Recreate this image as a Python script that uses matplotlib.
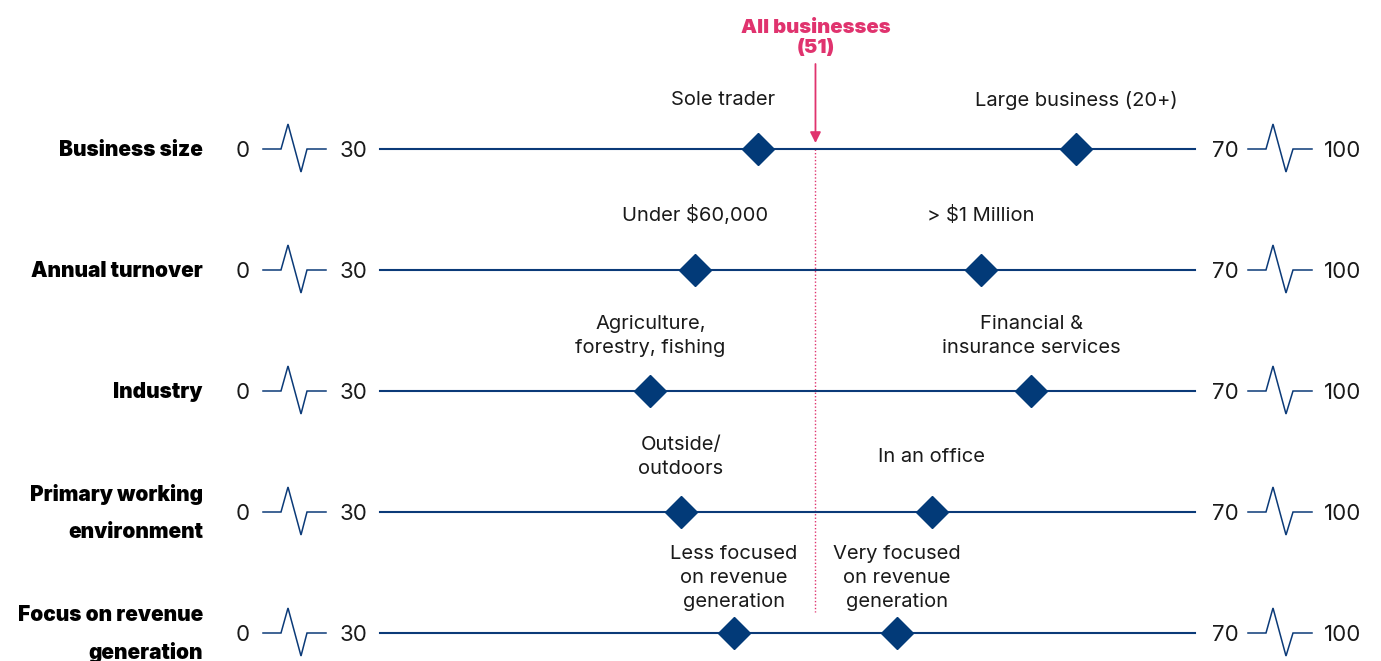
import matplotlib.pyplot as plt

plt.rcParams['font.family'] = ['Inter', 'DejaVu Sans']

# data
rows = ["Business size", "Annual turnover", "Industry",
        "Primary working\nenvironment", "Focus on revenue\ngeneration"]
low_labels = ["Sole trader", "Under $60,000", "Agriculture,\nforestry, fishing",
              "Outside/\noutdoors", "Less focused\non revenue\ngeneration"]
low_values = [48.2, 45.1, 42.9, 44.4, 47.0]
high_labels = ["Large business (20+)", "> $1 Million", "Financial &\ninsurance services",
               "In an office", "Very focused\non revenue\ngeneration"]
high_values = [63.8, 59.1, 61.6, 56.7, 55.0]
overall = 51
overall_label = "All businesses\n(51)"
scale_ticks = ["0", "30", "70", "100"]

W, H = 1381, 661
NAVY = "#0b3a78"
DIAMOND = "#023a78"
PINK = "#e0336e"
TEXT = "#1a1a1a"

# layout in pixels: value 30 sits at x=387.6, 20.375 px per point,
# first row at y=149, rows 121 px apart
X30, PPU = 387.6, 20.375
Y0, DY = 149, 121

fig = plt.figure(figsize=(W / 100, H / 100), dpi=100)
ax = fig.add_axes([0, 0, 1, 1])
ax.set_xlim(30 - X30 / PPU, 30 + (W - X30) / PPU)
ax.set_ylim((H - Y0) / DY, -Y0 / DY)
ax.axis("off")


def px(x):
    # pixel x -> data x
    return 30 + (x - X30) / PPU


def py(d):
    # pixel offset in y -> data offset
    return d / DY


zig_left = [263, 281, 288, 301, 307, 326]
zig_right = [1248, 1266, 1273, 1286, 1293, 1312]
zig_dy = [0, 0, -25, 23, 0, 0]
tick_x = [243, 353, 1225, 1343]

for i, name in enumerate(rows):
    ax.text(px(203), i + py(1), name, ha='right', va='center', fontsize=15,
            fontweight='black', color='black', linespacing=2.05)
    for t, tx in zip(scale_ticks, tick_x):
        ax.text(px(tx), i + py(2), t, ha='center', va='center', fontsize=16, color=TEXT)
    for zx in (zig_left, zig_right):
        ax.plot([px(x) for x in zx], [i + py(d) for d in zig_dy], color=NAVY, lw=1.1,
                solid_joinstyle='miter')
    ax.plot([px(380), px(1195)], [i, i], color=NAVY, lw=1.5, zorder=2)
    ax.plot([low_values[i], high_values[i]], [i, i], ls='none', marker='D', ms=16,
            color=DIAMOND, zorder=4)

    ly = -49 if i == 0 else -55
    dx = -35 if i == 0 else 0
    ax.text(low_values[i] + dx / PPU, i + py(ly), low_labels[i], ha='center', va='center',
            fontsize=14.5, color=TEXT, linespacing=1.42)
    ax.text(high_values[i], i + py(ly), high_labels[i], ha='center', va='center',
            fontsize=14.5, color=TEXT, linespacing=1.42)

# all businesses marker
ax.text(overall, py(38 - Y0), overall_label, ha='center', va='center', fontsize=14.6,
        fontweight='black', color=PINK, linespacing=1.2)
ax.annotate('', xy=(overall, py(-6)), xytext=(overall, py(-85)),
            arrowprops=dict(arrowstyle='-|>', color=PINK, lw=1.3, mutation_scale=16,
                            shrinkA=0, shrinkB=0))
ax.plot([overall, overall], [0, 4 + py(-21)], color=PINK, lw=1.0, ls=(0, (1, 1.5)), zorder=1)

fig.savefig("out.png", dpi=100)
